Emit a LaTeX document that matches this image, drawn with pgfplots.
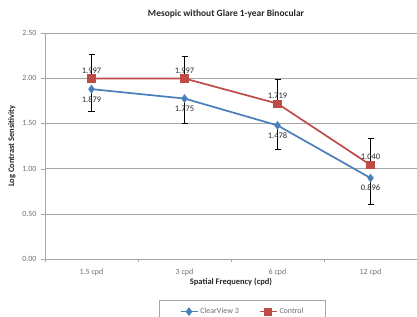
\documentclass[border=0pt]{standalone}
\usepackage{fontspec}
\setmainfont{Carlito}
\usepackage{pgfplots}
\pgfplotsset{compat=1.18}
\usepackage{pgfplotstable}
\definecolor{cvblue}{HTML}{4A7EBB}
\definecolor{ctred}{HTML}{BE4B48}
\definecolor{gridc}{HTML}{A6A6A6}
\definecolor{tickc}{HTML}{707070}

\pgfplotstableread{
x y err lab
0.5 1.879 0.24 1.879
1.5 1.775 0.27 1.775
2.5 1.478 0.27 1.478
3.5 0.896 0.29 0.896
}\cvdata
\pgfplotstableread{
x y err lab
0.5 1.997 0.27 1.997
1.5 1.997 0.25 1.997
2.5 1.719 0.27 1.719
3.5 1.040 0.29 1.040
}\ctdata

\begin{document}
\begin{tikzpicture}
\useasboundingbox (0,0) rectangle (417bp,317bp);
\node[font=\fontsize{9.5}{11}\selectfont\bfseries, text=black!85] at (226bp,303bp) {Mesopic without Glare 1-year Binocular};
\begin{axis}[
  at={(45bp,58bp)}, anchor=south west,
  scale only axis, width=372bp, height=226bp,
  xmin=0, xmax=4, ymin=0, ymax=2.5,
  ytick={0,0.5,1,1.5,2,2.5},
  yticklabel style={/pgf/number format/fixed, /pgf/number format/fixed zerofill, /pgf/number format/precision=2, xshift=-1bp},
  /pgf/number format/assume math mode=true,
  ticklabel style={font=\fontsize{8}{9}\selectfont, text=tickc},
  xticklabel style={yshift=-2bp},
  xtick={0.5,1.5,2.5,3.5},
  xticklabels={1.5 cpd, 3 cpd, 6 cpd, 12 cpd},
  minor xtick={0,1,2,3,4},
  major x tick style={draw=none},
  minor tick length=3bp,
  major tick length=4bp,
  tick align=outside,
  axis x line*=bottom, axis y line*=left,
  axis line style={gridc, -},
  tick style={gridc},
  ymajorgrids, grid style={gridc, line width=0.6pt},
  xlabel={Spatial Frequency (cpd)},
  ylabel={Log Contrast Sensitivity},
  label style={font=\fontsize{8.5}{9}\selectfont\bfseries, text=black!85},
  xlabel style={yshift=4bp},
  legend columns=2,
  legend style={at={(0.531,-0.181)}, anchor=north, draw=gridc, font=\fontsize{8}{9}\selectfont, text=tickc,
    /tikz/every even column/.append style={column sep=18bp}, inner xsep=20bp, inner ysep=6bp},
  error bars/error bar style={black, line width=0.6pt},
  error bars/error mark options={rotate=90, mark size=3bp, black, line width=0.6pt},
  nodes near coords,
  point meta=explicit symbolic,
  every node near coord/.append style={font=\fontsize{8.5}{9}\selectfont, text=black!85},
]
\addplot[cvblue, line width=1.7pt, mark=diamond*, mark size=3bp, mark options={solid, fill=cvblue},
  nodes near coords align={below}, every node near coord/.append style={yshift=-3bp},
  error bars/.cd, y dir=minus, y explicit]
  table[x=x, y=y, y error=err, meta=lab] {\cvdata};
\addlegendentry{ClearView 3}
\addplot[ctred, line width=1.7pt, mark=square*, mark size=3.2bp, mark options={solid, fill=ctred},
  nodes near coords align={above}, every node near coord/.append style={yshift=1bp},
  error bars/.cd, y dir=plus, y explicit]
  table[x=x, y=y, y error=err, meta=lab] {\ctdata};
\addlegendentry{Control}
\end{axis}
\end{tikzpicture}
\end{document}
